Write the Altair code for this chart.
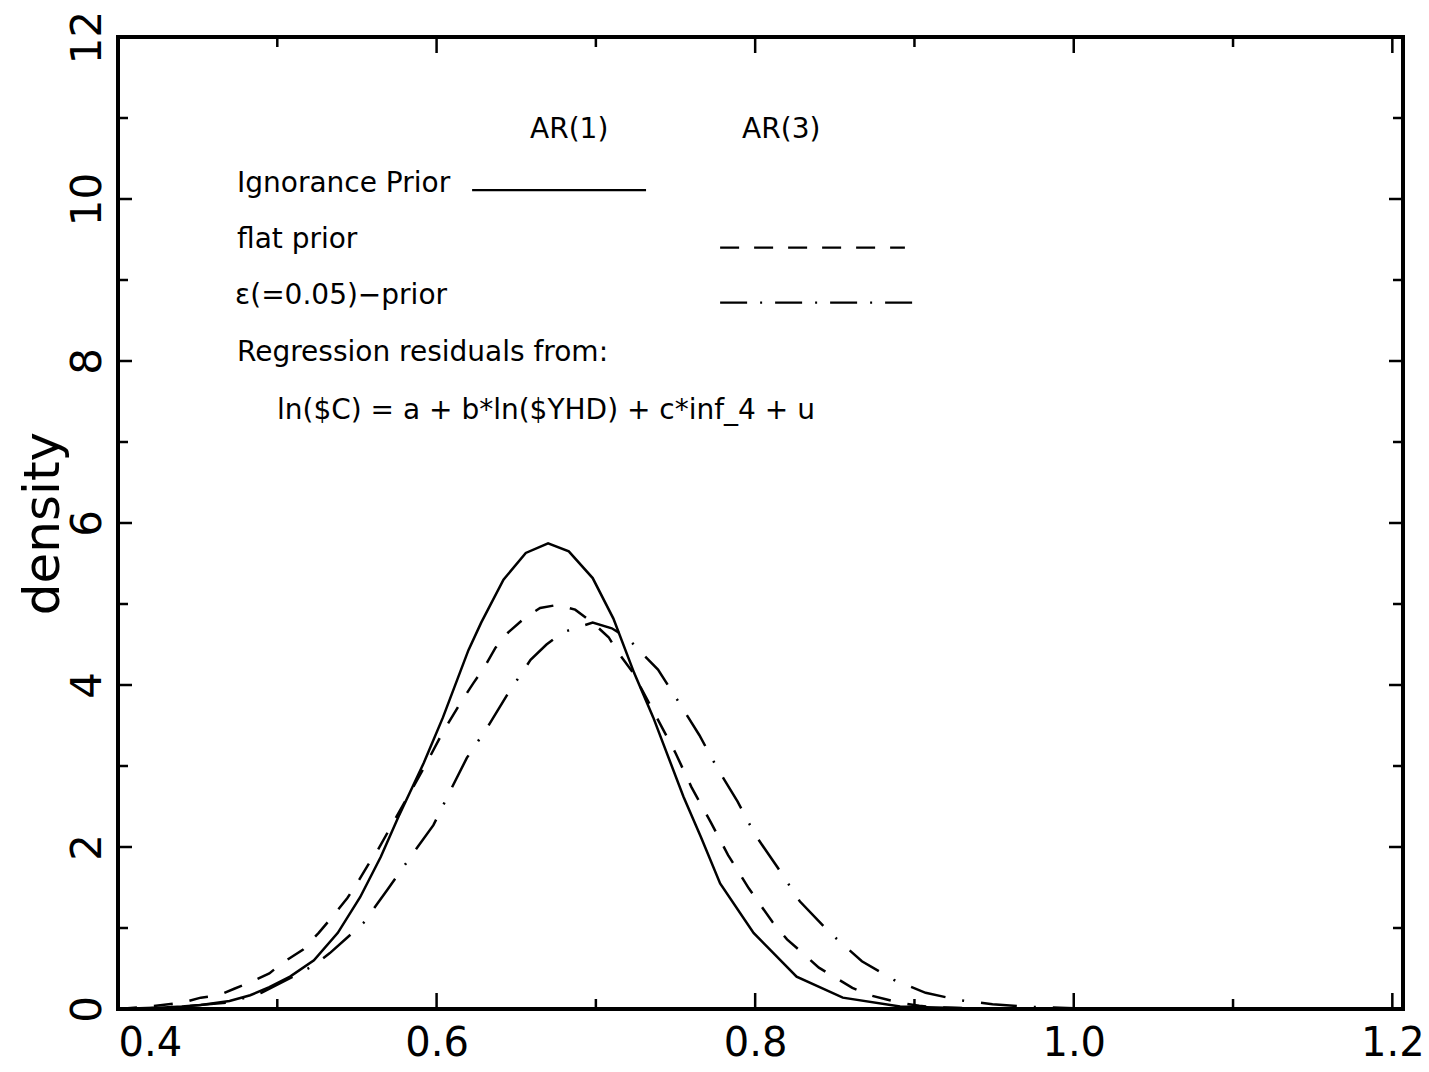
import altair as alt
import pandas as pd

# ---------------- data ----------------
ign_x = [0.400, 0.420, 0.440, 0.452, 0.470, 0.483, 0.495, 0.508, 0.523, 0.538, 0.552, 0.565,
         0.576, 0.592, 0.604, 0.620, 0.628, 0.642, 0.656, 0.670, 0.683, 0.698, 0.711, 0.724,
         0.736, 0.755, 0.766, 0.778, 0.799, 0.826, 0.855, 0.891, 0.930, 1.000]
ign_y = [0.00, 0.01, 0.03, 0.05, 0.10, 0.17, 0.27, 0.40, 0.60, 0.94, 1.38, 1.88,
         2.37, 3.04, 3.60, 4.43, 4.77, 5.30, 5.63, 5.75, 5.65, 5.32, 4.82, 4.15,
         3.60, 2.62, 2.12, 1.55, 0.94, 0.40, 0.14, 0.03, 0.01, 0.00]

flat_x = [0.400, 0.420, 0.441, 0.452, 0.463, 0.473, 0.483, 0.495, 0.504, 0.516, 0.526, 0.535,
          0.544, 0.550, 0.557, 0.563, 0.593, 0.604, 0.616, 0.623, 0.630, 0.637, 0.645, 0.656,
          0.665, 0.676, 0.687, 0.698, 0.708, 0.714, 0.723, 0.739, 0.750, 0.760, 0.772, 0.783,
          0.796, 0.811, 0.820, 0.831, 0.840, 0.851, 0.861, 0.872, 0.882, 0.893, 0.903, 0.914, 0.950]
flat_y = [0.00, 0.03, 0.08, 0.14, 0.17, 0.25, 0.33, 0.44, 0.58, 0.73, 0.94, 1.15,
          1.37, 1.55, 1.78, 1.96, 3.01, 3.42, 3.81, 4.02, 4.22, 4.46, 4.65, 4.84,
          4.95, 4.99, 4.93, 4.77, 4.59, 4.40, 4.16, 3.57, 3.16, 2.74, 2.31, 1.90,
          1.49, 1.07, 0.86, 0.67, 0.51, 0.38, 0.26, 0.17, 0.12, 0.07, 0.04, 0.02, 0.00]

eps_x = [0.400, 0.440, 0.470, 0.490, 0.508, 0.523, 0.533, 0.554, 0.569, 0.583, 0.598, 0.608,
         0.619, 0.632, 0.645, 0.659, 0.669, 0.679, 0.698, 0.710, 0.720, 0.728, 0.739, 0.752,
         0.765, 0.776, 0.789, 0.800, 0.814, 0.828, 0.847, 0.867, 0.887, 0.907, 0.928, 0.949,
         0.968, 1.000, 1.050]
eps_y = [0.00, 0.03, 0.08, 0.20, 0.38, 0.54, 0.69, 1.06, 1.47, 1.86, 2.27, 2.67,
         3.10, 3.48, 3.90, 4.31, 4.50, 4.65, 4.77, 4.70, 4.58, 4.41, 4.19, 3.79,
         3.38, 2.98, 2.56, 2.15, 1.75, 1.33, 0.94, 0.59, 0.36, 0.20, 0.11, 0.06,
         0.03, 0.01, 0.00]

x_major = [0.4, 0.6, 0.8, 1.0, 1.2]
x_minor = [0.5, 0.7, 0.9, 1.1]
y_major = [0, 2, 4, 6, 8, 10, 12]
y_minor = [1, 3, 5, 7, 9, 11]

header_texts = ["AR(1)", "AR(3)"]
legend_texts = ["Ignorance Prior", "flat prior", "\u03b5(=0.05)\u2212prior",
                "Regression residuals from:"]
formula_text = ["ln($C) = a + b*ln($YHD) + c*inf_4 + u"]

# annotation placement (data units)
header_x = [0.6587, 0.7918]
header_y = [10.85, 10.85]
legend_tx = [0.4747, 0.4747, 0.4735, 0.4747]
legend_ty = [10.19, 9.49, 8.80, 8.10]
formula_x = [0.4998]
formula_y = [7.38]
key_x = [0.6223, 0.778, 0.778]
key_x2 = [0.7315, 0.894, 0.902]
key_y = [10.11, 9.40, 8.72]

# ---------------- chart ----------------
W, H = 1285, 972
FONT = "DejaVu Sans"
xs = alt.Scale(domain=[0.4, 1.2067], nice=False, zero=False)
ys = alt.Scale(domain=[0, 12], nice=False, zero=True)

X_ENC = alt.X("x:Q", scale=xs, axis=alt.Axis(
    values=x_major, format=".1f", labelFont=FONT, labelFontSize=40, labelColor="black",
    ticks=False, tickSize=0, domain=False, grid=False, labelPadding=14,
    labelFlush=True, title=None))
Y_ENC = alt.Y("y:Q", scale=ys, axis=alt.Axis(
    values=y_major, format="d", labelFont=FONT, labelFontSize=42, labelColor="black",
    labelAngle=270, labelAlign="center", labelBaseline="bottom", labelPadding=9,
    labelFlush=False, ticks=False, tickSize=0, domain=False, grid=False,
    title="density", titleFont=FONT, titleFontSize=50, titleFontWeight="normal",
    titleColor="black", titleAngle=270, titleAlign="center", titleBaseline="alphabetic",
    titleX=-60, titleY=486))


def curve(xv, yv, dash=None):
    df = pd.DataFrame({"x": xv, "y": yv})
    kw = dict(color="black", strokeWidth=2.5, clip=True)
    if dash is not None:
        kw["strokeDash"] = dash
    return alt.Chart(df).mark_line(**kw).encode(x=X_ENC, y=Y_ENC, order="x:Q")


layers = [
    curve(ign_x, ign_y),
    curve(flat_x, flat_y, [19, 17]),
    curve(eps_x, eps_y, [36, 17, 2, 17]),
]

# legend keys
key_dashes = [None, [19, 15], [27, 13, 2, 13]]
for i in range(3):
    df = pd.DataFrame({"x": [key_x[i]], "x2": [key_x2[i]], "y": [key_y[i]]})
    kw = dict(color="black", strokeWidth=2.2)
    if key_dashes[i] is not None:
        kw["strokeDash"] = key_dashes[i]
    layers.append(alt.Chart(df).mark_rule(**kw).encode(x=X_ENC, x2="x2:Q", y=Y_ENC))

# texts
tdf = pd.DataFrame({
    "x": header_x + legend_tx + formula_x,
    "y": header_y + legend_ty + formula_y,
    "t": header_texts + legend_texts + formula_text,
})
layers.append(alt.Chart(tdf).mark_text(
    align="left", baseline="middle", font=FONT, fontSize=28, color="black"
).encode(x=X_ENC, y=Y_ENC, text="t:N"))


# inward ticks on all four sides
def xticks(vals, length):
    df = pd.DataFrame({"x": vals})
    bot = alt.Chart(df).mark_rule(color="black", strokeWidth=2.5).encode(
        x=X_ENC, y=alt.value(H), y2=alt.value(H - length))
    top = alt.Chart(df).mark_rule(color="black", strokeWidth=2.5).encode(
        x=X_ENC, y=alt.value(0), y2=alt.value(length))
    return [bot, top]


def yticks(vals, length):
    df = pd.DataFrame({"y": vals})
    left = alt.Chart(df).mark_rule(color="black", strokeWidth=2.5).encode(
        y=Y_ENC, x=alt.value(0), x2=alt.value(length))
    right = alt.Chart(df).mark_rule(color="black", strokeWidth=2.5).encode(
        y=Y_ENC, x=alt.value(W), x2=alt.value(W - length))
    return [left, right]


layers += xticks(x_major, 16) + xticks(x_minor, 10)
layers += yticks(y_major, 14) + yticks(y_minor, 10)

chart = alt.layer(*layers).properties(
    width=W, height=H,
    autosize=alt.AutoSizeParams(type="none"),
    padding={"left": 118, "top": 37, "right": 26, "bottom": 63},
    background="white",
).configure_view(stroke="black", strokeWidth=4)

chart.save("out.html", embed_options={"renderer": "svg", "actions": False})
